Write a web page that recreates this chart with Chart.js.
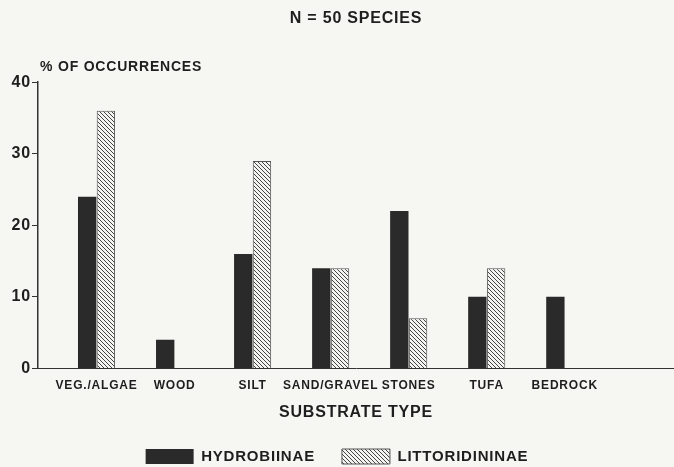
<!DOCTYPE html>
<html>
<head>
<meta charset="utf-8">
<script src="https://cdn.jsdelivr.net/npm/chart.js@4"></script>
<style>
  body { margin: 0; background: #f6f6f3; }
  #wrap { width: 674px; height: 467px; }
</style>
</head>
<body>
<div id="wrap"><canvas id="chart"></canvas></div>
<script>
const substrates = ['VEG./ALGAE', 'WOOD', 'SILT', 'SAND/GRAVEL', 'STONES', 'TUFA', 'BEDROCK'];
const hydrobiinae = [24, 4, 16, 14, 22, 10, 10];
const littoridininae = [36, 0, 29, 14, 7, 14, 0];
const yTicks = [0, 10, 20, 30, 40];

const FONT = "'Liberation Sans', Arial, sans-serif";
const INK = '#1e1e1e';

// diagonal hatching for the second series
function hatch() {
    const c = document.createElement('canvas');
    c.width = 4; c.height = 4;
    const g = c.getContext('2d');
    g.fillStyle = '#f4f4f1';
    g.fillRect(0, 0, 4, 4);
    g.strokeStyle = '#444';
    g.lineWidth = 1;
    g.beginPath();
    g.moveTo(0, 0); g.lineTo(4, 4);
    g.moveTo(-1, 3); g.lineTo(1, 5);
    g.moveTo(3, -1); g.lineTo(5, 1);
    g.stroke();
    return g.createPattern(c, 'repeat');
}

// the old typeset labels are a bit spread out
const spacing = {
    id: 'spacing',
    beforeUpdate(chart) { chart.ctx.letterSpacing = '0.8px'; },
    beforeDraw(chart) { chart.ctx.letterSpacing = '0.8px'; }
};

// horizontal y axis label above the axis
const yLabel = {
    id: 'yLabel',
    afterDraw(chart) {
        const {ctx, chartArea} = chart;
        ctx.save();
        ctx.font = 'bold 14px ' + FONT;
        ctx.fillStyle = INK;
        ctx.textBaseline = 'middle';
        ctx.textAlign = 'left';
        ctx.fillText('% OF OCCURRENCES', chartArea.left + 2, chartArea.top - 15);
        ctx.restore();
    }
};

const toPoints = arr => arr.map((v, i) => ({x: i, y: v}));

new Chart(document.getElementById('chart'), {
    type: 'bar',
    data: {
        datasets: [{
            label: 'HYDROBIINAE',
            data: toPoints(hydrobiinae),
            backgroundColor: '#2a2a2a',
            borderWidth: 0
        }, {
            label: 'LITTORIDININAE',
            data: toPoints(littoridininae),
            backgroundColor: hatch(),
            borderColor: '#555',
            borderWidth: 1
        }]
    },
    options: {
        responsive: true,
        maintainAspectRatio: false,
        animation: false,
        categoryPercentage: 0.48,
        barPercentage: 0.98,
        layout: { padding: { left: 0, right: 0, top: 0, bottom: -7 } },
        plugins: {
            title: {
                display: true,
                text: 'N = 50 SPECIES',
                fullSize: false,
                color: INK,
                font: { family: FONT, size: 16, weight: 'bold' },
                padding: { top: 9, bottom: 54 }
            },
            legend: {
                position: 'bottom',
                labels: {
                    boxWidth: 48,
                    boxHeight: 15,
                    padding: 27,
                    color: INK,
                    font: { family: FONT, size: 15, weight: 'bold' }
                }
            },
            tooltip: { enabled: false }
        },
        scales: {
            x: {
                type: 'linear',
                min: -0.75,
                max: 7.4,
                offset: false,
                grid: { display: false, drawTicks: false, offset: false },
                border: { display: true, color: '#333', width: 1 },
                ticks: {
                    stepSize: 1,
                    includeBounds: false,
                    autoSkip: false,
                    maxRotation: 0,
                    minRotation: 0,
                    padding: 10,
                    color: INK,
                    font: { family: FONT, size: 12, weight: 'bold' },
                    callback: v => substrates[v] ?? ''
                },
                title: {
                    display: true,
                    text: 'SUBSTRATE TYPE',
                    color: INK,
                    font: { family: FONT, size: 16, weight: 'bold' },
                    padding: { top: 0, bottom: 0 }
                }
            },
            y: {
                min: yTicks[0],
                max: yTicks[yTicks.length - 1],
                grid: { drawOnChartArea: false, drawTicks: true, tickLength: 6, color: '#333' },
                border: { color: '#333', width: 1.5 },
                ticks: {
                    stepSize: yTicks[1] - yTicks[0],
                    padding: 1,
                    color: INK,
                    font: { family: FONT, size: 16, weight: 'bold' }
                },
                afterFit(scale) { scale.width = 38; }
            }
        }
    },
    plugins: [spacing, yLabel]
});
</script>
</body>
</html>
